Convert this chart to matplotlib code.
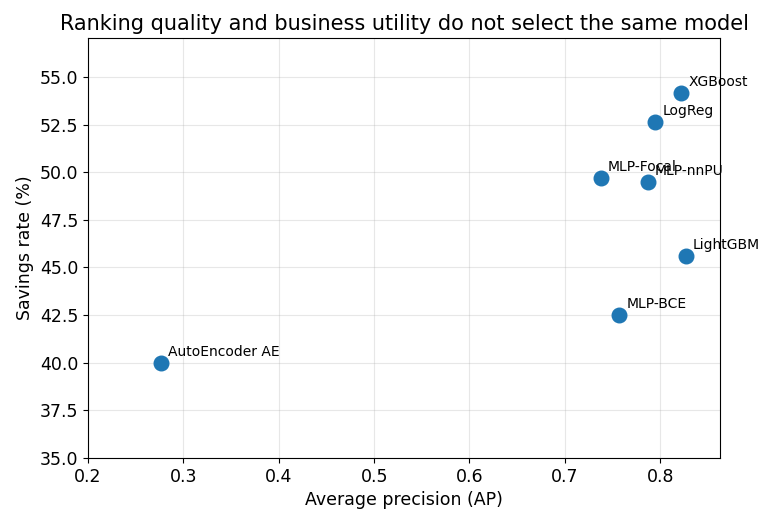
import matplotlib
matplotlib.use("Agg")
import matplotlib.pyplot as plt

models = ["XGBoost", "LogReg", "MLP-Focal", "MLP-nnPU", "LightGBM", "MLP-BCE", "AutoEncoder AE"]
ap = [0.822, 0.795, 0.738, 0.787, 0.827, 0.757, 0.277]
savings = [54.15, 52.62, 49.68, 49.47, 45.58, 42.50, 39.98]

fig = plt.figure(figsize=(7.59, 5.12), dpi=100)
ax = fig.add_axes([0.116, 0.1055, 0.833, 0.8205])

ax.scatter(ap, savings, s=110, color="#1f77b4", zorder=3)
for name, x, y in zip(models, ap, savings):
    ax.annotate(name, (x, y), xytext=(5, 5), textcoords="offset points", fontsize=10)

ax.set_xlim(0.2, 0.863)
ax.set_ylim(35, 57.05)
ax.set_xticks([0.2, 0.3, 0.4, 0.5, 0.6, 0.7, 0.8])
ax.set_yticks([35.0, 37.5, 40.0, 42.5, 45.0, 47.5, 50.0, 52.5, 55.0])
ax.tick_params(labelsize=12.5)
ax.grid(True, alpha=0.3)
ax.set_xlabel("Average precision (AP)", fontsize=12.5)
ax.set_ylabel("Savings rate (%)", fontsize=12.5)
ax.set_title("Ranking quality and business utility do not select the same model", fontsize=15)

fig.savefig("out.png", dpi=100)
